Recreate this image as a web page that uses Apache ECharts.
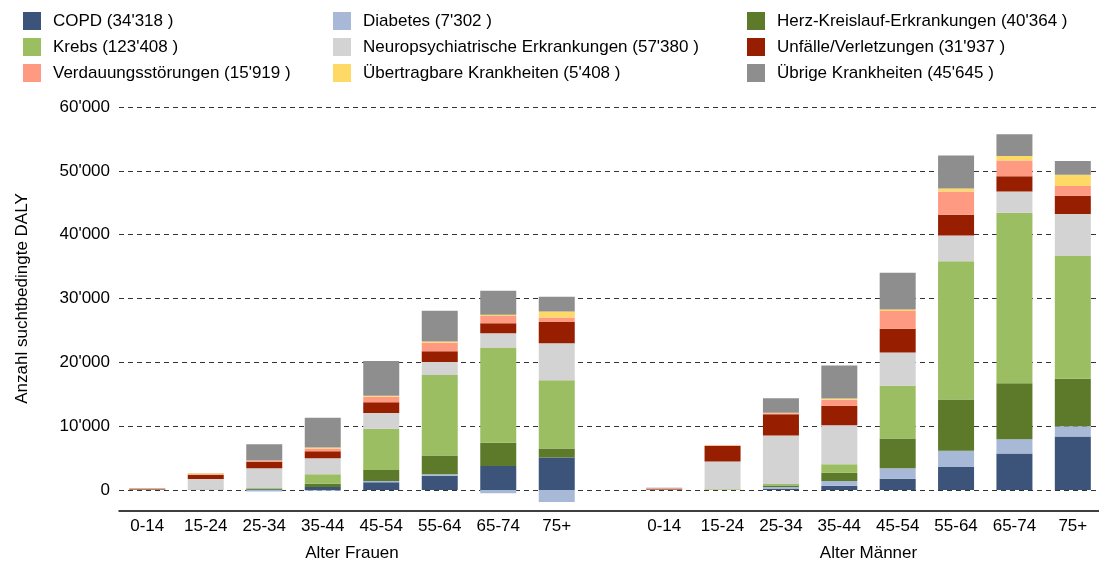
<!DOCTYPE html>
<html>
<head>
<meta charset="utf-8">
<title>Suchtbedingte DALY</title>
<script src="https://cdn.jsdelivr.net/npm/echarts@6/dist/echarts.min.js"></script>
<style>
  html, body { margin: 0; padding: 0; background: #fff; }
  #main { width: 1099px; height: 564px; }
</style>
</head>
<body>
<div id="main"></div>
<script>
// Altersklassen
var ages = ['0-14', '15-24', '25-34', '35-44', '45-54', '55-64', '65-74', '75+'];

// Krankheitsgruppen (Stapelreihenfolge von unten nach oben)
var names = ['COPD', 'Diabetes', 'Herz-Kreislauf-Erkrankungen', 'Krebs', 'Neuropsychiatrische Erkrankungen',
    'Unfälle/Verletzungen', 'Verdauungsstörungen', 'Übertragbare Krankheiten', 'Übrige Krankheiten'];
var totals = [34318, 7302, 40364, 123408, 57380, 31937, 15919, 5408, 45645];
var colors = ['#3c5479', '#a7b9d6', '#5c7a29', '#9bbe62', '#d3d3d3', '#971f00', '#ff9a82', '#ffd966', '#8e8e8e'];

// Frauen
var copdF = [0, 20, 100, 470, 1200, 2250, 3770, 5080];
var diabF = [10, 10, -250, -100, 210, 210, -520, -1890];
var herzF = [10, 20, 100, 520, 1730, 2930, 3620, 1410];
var krebsF = [20, 30, 200, 1470, 6450, 12630, 14930, 10690];
var neuroF = [30, 1650, 2990, 2515, 2460, 2040, 2250, 5820];
var unfallF = [120, 650, 1050, 1100, 1680, 1680, 1570, 3300];
var verdF = [60, 100, 150, 420, 890, 1310, 1100, 730];
var uebertrF = [20, 120, 50, 150, 150, 210, 210, 940];
var uebrigF = [30, 30, 2515, 4660, 5450, 4820, 3770, 2300];

// Männer
var copdM = [0, 0, 150, 680, 1780, 3620, 5710, 8380];
var diabM = [10, 0, 310, 730, 1620, 2520, 2250, 1620];
var herzM = [10, 0, 260, 1310, 4660, 8020, 8750, 7440];
var krebsM = [20, 100, 210, 1310, 8280, 21690, 26720, 19230];
var neuroM = [30, 4350, 7600, 6130, 5190, 4030, 3350, 6550];
var unfallM = [100, 2460, 3350, 3040, 3720, 3250, 2360, 2880];
var verdM = [100, 100, 160, 940, 2780, 3620, 2460, 1520];
var uebertrM = [20, 50, 50, 210, 260, 470, 730, 1780];
var uebrigM = [50, 0, 2300, 5140, 5760, 5190, 3400, 2150];

var yTicks = { min: 0, max: 60000, step: 10000 };

var frauen = [copdF, diabF, herzF, krebsF, neuroF, unfallF, verdF, uebertrF, uebrigF];
var maenner = [copdM, diabM, herzM, krebsM, neuroM, unfallM, verdM, uebertrM, uebrigM];

// Tausender mit Apostroph
function fmt(v) {
    return String(v).replace(/\B(?=(\d{3})+(?!\d))/g, "'");
}

var FONT = "'Liberation Sans', Arial, sans-serif";
var myChart = echarts.init(document.getElementById('main'));

function legendCol(left, idx) {
    return {
        orient: 'vertical',
        left: left,
        top: 12,
        padding: 0,
        itemWidth: 18,
        itemHeight: 18,
        itemGap: 8,
        icon: 'rect',
        data: idx.map(function (i) { return names[i]; }),
        formatter: function (name) {
            return name + ' (' + fmt(totals[names.indexOf(name)]) + ' )';
        },
        textStyle: { fontFamily: FONT, fontSize: 17, color: '#000', padding: [0, 0, 0, 7] }
    };
}

var series = [];
names.forEach(function (n, i) {
    series.push({
        name: n, type: 'bar', stack: 'F', xAxisIndex: 1, yAxisIndex: 1,
        barWidth: 36, clip: false, data: frauen[i],
        itemStyle: { color: colors[i] }
    });
    series.push({
        name: n, type: 'bar', stack: 'M', xAxisIndex: 2, yAxisIndex: 2,
        barWidth: 36, clip: false, data: maenner[i],
        itemStyle: { color: colors[i] }
    });
});

var option = {
    animation: false,
    textStyle: { fontFamily: FONT },
    color: colors,
    legend: [
        legendCol(23, [0, 3, 6]),
        legendCol(333, [1, 4, 7]),
        legendCol(747, [2, 5, 8])
    ],
    grid: [
        { left: 119, right: 0, top: 107, height: 383, outerBoundsMode: 'none' },
        { left: 118, width: 468, top: 107, height: 383, outerBoundsMode: 'none' },
        { left: 635, width: 467, top: 107, height: 383, outerBoundsMode: 'none' }
    ],
    xAxis: [
        {
            gridIndex: 0, type: 'category', data: [''], offset: 21,
            axisLine: { onZero: false, lineStyle: { color: '#000', width: 1.5 } },
            axisTick: { show: false }, axisLabel: { show: false }
        },
        {
            gridIndex: 1, type: 'category', data: ages, offset: 21,
            axisLine: { show: false, onZero: false }, axisTick: { show: false },
            axisLabel: { fontFamily: FONT, fontSize: 17, color: '#000', margin: 7 },
            name: 'Alter Frauen', nameLocation: 'middle', nameGap: 34,
            nameTextStyle: { fontFamily: FONT, fontSize: 17, color: '#000' }
        },
        {
            gridIndex: 2, type: 'category', data: ages, offset: 21,
            axisLine: { show: false, onZero: false }, axisTick: { show: false },
            axisLabel: { fontFamily: FONT, fontSize: 17, color: '#000', margin: 7 },
            name: 'Alter Männer', nameLocation: 'middle', nameGap: 34,
            nameTextStyle: { fontFamily: FONT, fontSize: 17, color: '#000' }
        }
    ],
    yAxis: [
        {
            gridIndex: 0, type: 'value', min: yTicks.min, max: yTicks.max, interval: yTicks.step,
            axisLine: { show: false }, axisTick: { show: false },
            axisLabel: {
                fontFamily: FONT, fontSize: 17, color: '#000', margin: 9,
                formatter: function (v) { return fmt(v); }
            },
            splitLine: { lineStyle: { color: '#333', type: [5, 4], width: 1 } },
            name: 'Anzahl suchtbedingte DALY', nameLocation: 'middle', nameGap: 88,
            nameTextStyle: { fontFamily: FONT, fontSize: 17, color: '#000' }
        },
        {
            gridIndex: 1, type: 'value', min: yTicks.min, max: yTicks.max, interval: yTicks.step,
            show: false, splitLine: { show: false }
        },
        {
            gridIndex: 2, type: 'value', min: yTicks.min, max: yTicks.max, interval: yTicks.step,
            show: false, splitLine: { show: false }
        }
    ],
    series: series
};

myChart.setOption(option);
</script>
</body>
</html>
